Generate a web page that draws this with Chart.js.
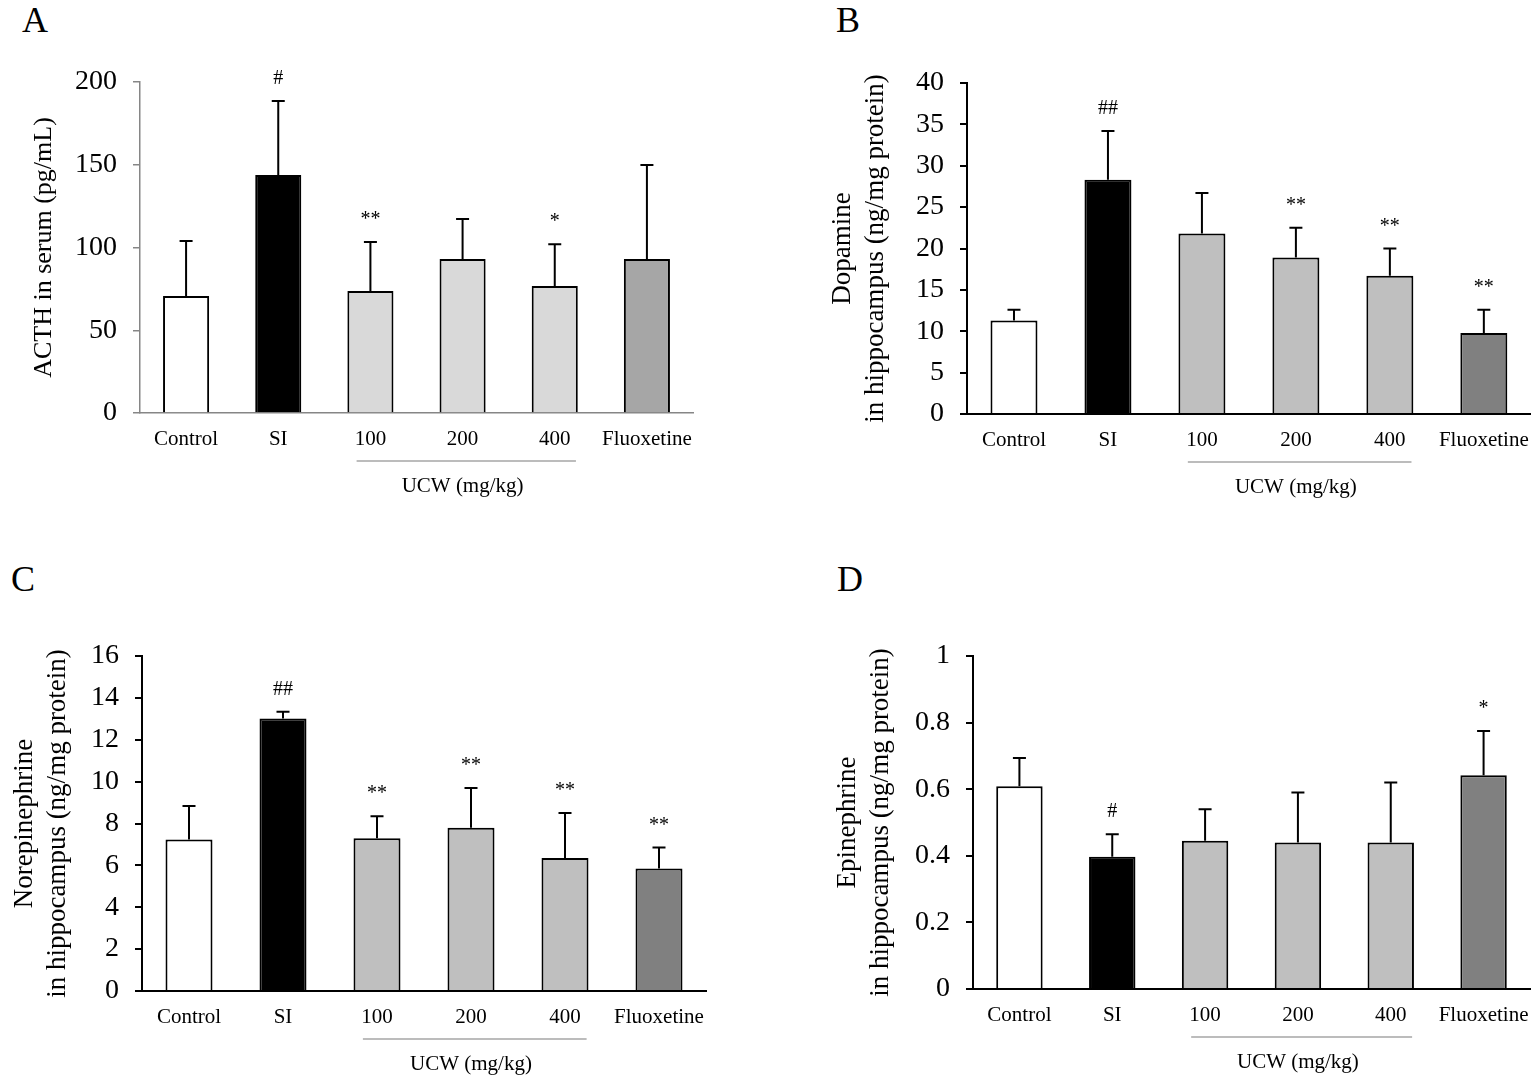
<!DOCTYPE html>
<html>
<head>
<meta charset="utf-8">
<script src="https://cdn.jsdelivr.net/npm/chart.js@4.4.1/dist/chart.umd.min.js"></script>
<style>
  body { margin: 0; background: #fff; width: 1535px; height: 1081px; position: relative; overflow: hidden; }
  canvas { position: absolute; }
  .tag { position: absolute; font-family: 'Liberation Serif', serif; font-size: 36px; line-height: 1; color: #000; }
</style>
</head>
<body>
<div class="tag" style="left:22px;top:2px">A</div>
<div class="tag" style="left:836px;top:2px">B</div>
<div class="tag" style="left:11px;top:561px">C</div>
<div class="tag" style="left:837px;top:561px">D</div>
<canvas id="chartA" width="767" height="540" style="left:0;top:0"></canvas>
<canvas id="chartB" width="768" height="540" style="left:767px;top:0"></canvas>
<canvas id="chartC" width="767" height="541" style="left:0;top:540px"></canvas>
<canvas id="chartD" width="768" height="541" style="left:767px;top:540px"></canvas>
<script>
const groups = ['Control', 'SI', '100', '200', '400', 'Fluoxetine'];

// A: ACTH in serum (pg/mL)
const acthMean = [70.7, 143.8, 73.7, 93.0, 76.7, 93.0];
const acthSd = [33.2, 44.7, 29.6, 24.2, 25.3, 56.8];
const acthMarks = ['', '#', '**', '', '*', ''];

// B: dopamine (ng/mg protein)
const dopMean = [11.3, 28.3, 21.8, 18.9, 16.7, 9.8];
const dopSd = [1.3, 5.9, 4.9, 3.6, 3.3, 2.8];
const dopMarks = ['', '##', '', '**', '**', '**'];

// C: norepinephrine (ng/mg protein)
const neMean = [7.24, 13.02, 7.3, 7.8, 6.35, 5.85];
const neSd = [1.6, 0.32, 1.05, 1.9, 2.15, 1.0];
const neMarks = ['', '##', '**', '**', '**', '**'];

// D: epinephrine (ng/mg protein)
const epiMean = [0.609, 0.397, 0.445, 0.44, 0.44, 0.642];
const epiSd = [0.085, 0.068, 0.095, 0.15, 0.18, 0.133];
const epiMarks = ['', '#', '', '', '', '*'];

const serif = "'Liberation Serif', 'DejaVu Serif', serif";
Chart.defaults.font.family = serif;
Chart.defaults.color = '#000';

// error bars, significance marks and the UCW bracket
const extras = {
  id: 'extras',
  afterDatasetsDraw(chart, args, opts) {
    const { ctx, scales: { x, y } } = chart;
    const data = chart.data.datasets[0].data;
    const meta = chart.getDatasetMeta(0);
    ctx.save();
    ctx.strokeStyle = '#000';
    ctx.lineWidth = 2;
    opts.sd.forEach((s, i) => {
      const px = meta.data[i].x;
      const top = y.getPixelForValue(data[i] + s);
      const base = y.getPixelForValue(data[i]);
      ctx.beginPath();
      ctx.moveTo(px, base);
      ctx.lineTo(px, top);
      ctx.moveTo(px - 6.5, top);
      ctx.lineTo(px + 6.5, top);
      ctx.stroke();
      if (opts.marks[i]) {
        ctx.font = '20px ' + serif;
        ctx.fillStyle = '#000';
        ctx.textAlign = 'center';
        ctx.textBaseline = 'alphabetic';
        ctx.fillText(opts.marks[i], px, top - 17);
      }
    });

    const w = x.getPixelForValue(1) - x.getPixelForValue(0);
    const lineY = chart.chartArea.bottom + 48;
    ctx.strokeStyle = '#a6a6a6';
    ctx.lineWidth = 1.5;
    ctx.beginPath();
    ctx.moveTo(x.getPixelForValue(2) - 0.15 * w, lineY);
    ctx.lineTo(x.getPixelForValue(4) + 0.23 * w, lineY);
    ctx.stroke();
    ctx.font = '21px ' + serif;
    ctx.fillStyle = '#000';
    ctx.textAlign = 'center';
    ctx.textBaseline = 'middle';
    ctx.fillText('UCW (mg/kg)', x.getPixelForValue(3), lineY + 25);
    ctx.restore();
  }
};

function makePanel(id, cfg) {
  const canvas = document.getElementById(id);
  const H = canvas.height;
  return new Chart(canvas, {
    type: 'bar',
    data: {
      labels: groups,
      datasets: [{
        data: cfg.mean,
        backgroundColor: cfg.colors,
        borderColor: '#000',
        borderWidth: 2,
        categoryPercentage: 1,
        barPercentage: 0.5
      }]
    },
    options: {
      responsive: false,
      animation: false,
      layout: { padding: { top: cfg.area.top, right: canvas.width - cfg.area.right, bottom: 0, left: 0 } },
      plugins: {
        legend: { display: false },
        tooltip: { enabled: false },
        extras: { sd: cfg.sd, marks: cfg.marks }
      },
      scales: {
        x: {
          grid: { display: false },
          border: { display: true, color: cfg.axisColor, width: cfg.axisWidth },
          ticks: { font: { size: 21 }, padding: 6, maxRotation: 0, minRotation: 0, autoSkip: false },
          afterFit: (s) => { s.height = H - cfg.area.bottom; }
        },
        y: {
          min: 0,
          max: cfg.max,
          grid: { display: true, drawOnChartArea: false, drawTicks: true, tickLength: 7, color: cfg.axisColor, lineWidth: cfg.axisWidth },
          border: { display: true, color: cfg.axisColor, width: cfg.axisWidth },
          ticks: { stepSize: cfg.step, font: { size: 28 }, padding: 16, callback: (v) => String(Number(v.toFixed(2))) },
          title: { display: true, text: cfg.title, font: { size: cfg.titleSize }, padding: { top: cfg.titlePad, bottom: 0 } },
          afterFit: (s) => { s.width = cfg.area.left; }
        }
      }
    },
    plugins: [extras]
  });
}

makePanel('chartA', {
  mean: acthMean, sd: acthSd, marks: acthMarks,
  colors: ['#ffffff', '#000000', '#d9d9d9', '#d9d9d9', '#d9d9d9', '#a6a6a6'],
  max: 200, step: 50,
  title: 'ACTH in serum (pg/mL)', titleSize: 26, titlePad: 29,
  axisColor: '#868686', axisWidth: 1.5,
  area: { left: 140, right: 693, top: 82, bottom: 413 }
});

makePanel('chartB', {
  mean: dopMean, sd: dopSd, marks: dopMarks,
  colors: ['#ffffff', '#000000', '#bfbfbf', '#bfbfbf', '#bfbfbf', '#808080'],
  max: 40, step: 5,
  title: ['Dopamine', 'in hippocampus (ng/mg protein)'], titleSize: 27, titlePad: 60,
  axisColor: '#000', axisWidth: 2,
  area: { left: 200, right: 765, top: 83, bottom: 414 }
});

makePanel('chartC', {
  mean: neMean, sd: neSd, marks: neMarks,
  colors: ['#ffffff', '#000000', '#bfbfbf', '#bfbfbf', '#bfbfbf', '#808080'],
  max: 16, step: 2,
  title: ['Norepinephrine', 'in hippocampus (ng/mg protein)'], titleSize: 27, titlePad: 9,
  axisColor: '#000', axisWidth: 2,
  area: { left: 142, right: 706, top: 116, bottom: 451 }
});

makePanel('chartD', {
  mean: epiMean, sd: epiSd, marks: epiMarks,
  colors: ['#ffffff', '#000000', '#bfbfbf', '#bfbfbf', '#bfbfbf', '#808080'],
  max: 1, step: 0.2,
  title: ['Epinephrine', 'in hippocampus (ng/mg protein)'], titleSize: 27, titlePad: 65,
  axisColor: '#000', axisWidth: 2,
  area: { left: 206, right: 763, top: 116, bottom: 449 }
});
</script>
</body>
</html>
